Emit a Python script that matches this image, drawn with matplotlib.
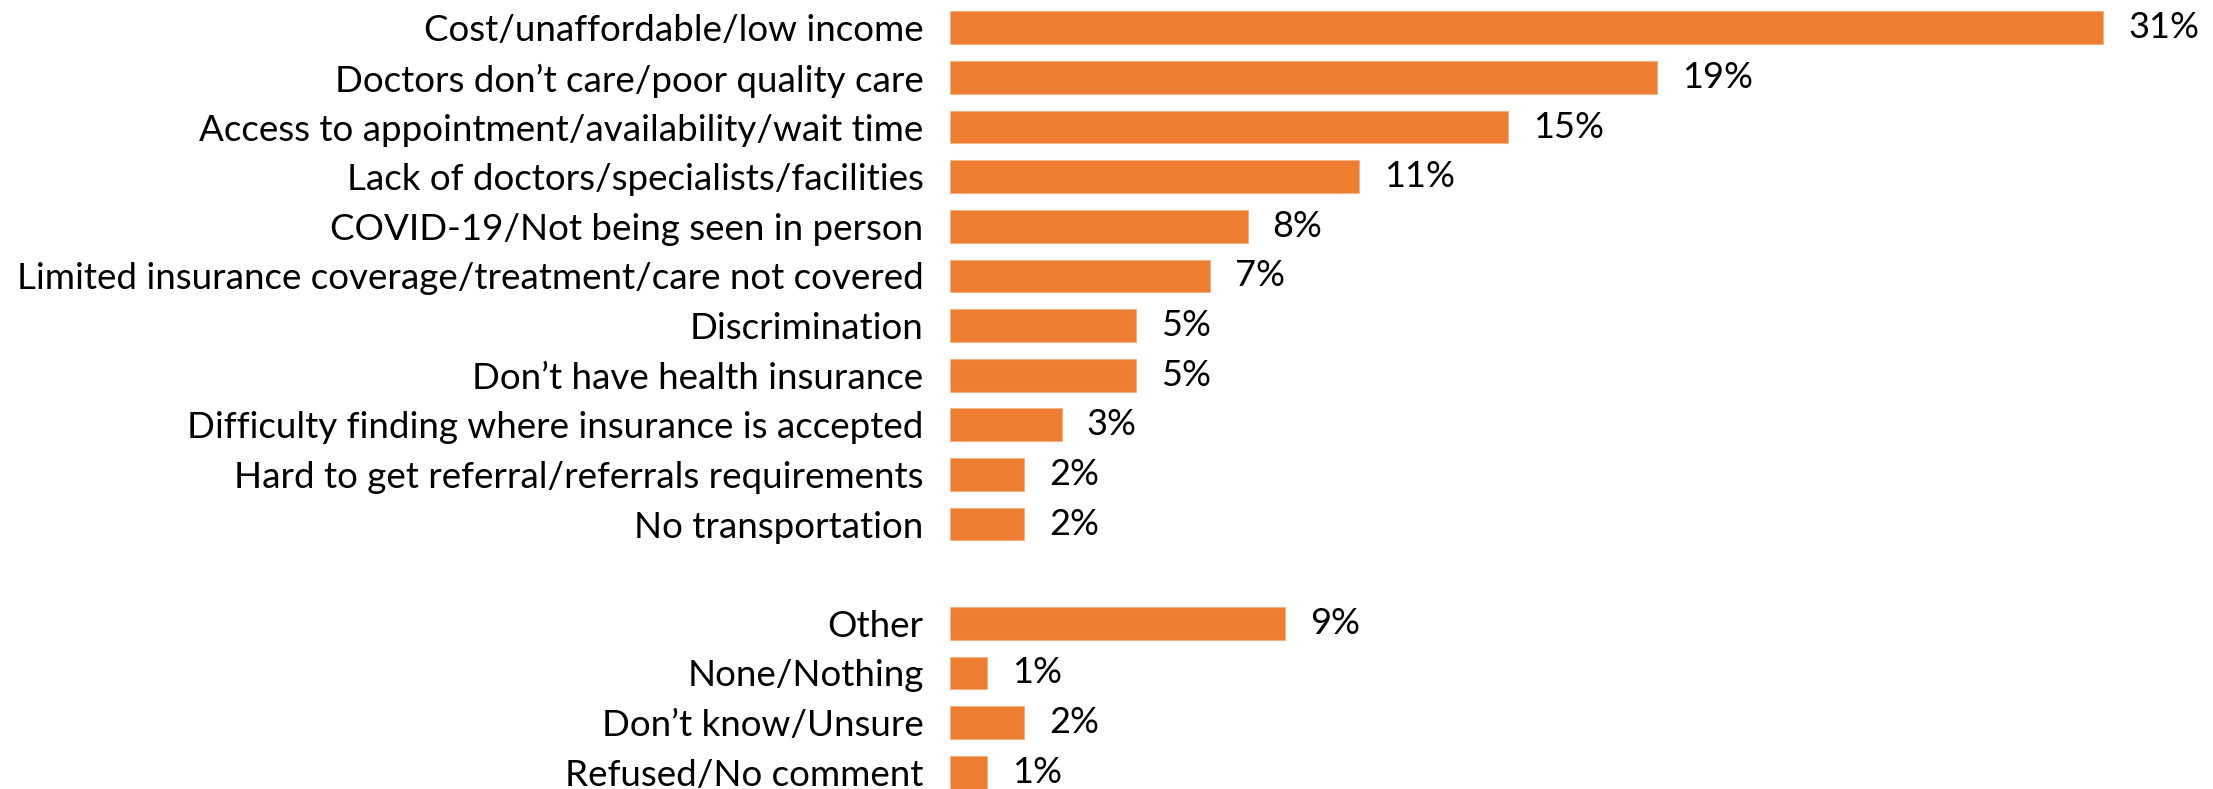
import numpy as np
import matplotlib; matplotlib.use("Agg")
import matplotlib.pyplot as plt

# reasons, top group then the "other" group (blank row in between)
reasons = ["Cost/unaffordable/low income",
           "Doctors don\u2019t care/poor quality care",
           "Access to appointment/availability/wait time",
           "Lack of doctors/specialists/facilities",
           "COVID-19/Not being seen in person",
           "Limited insurance coverage/treatment/care not covered",
           "Discrimination",
           "Don\u2019t have health insurance",
           "Difficulty finding where insurance is accepted",
           "Hard to get referral/referrals requirements",
           "No transportation"]
reason_pct = [31, 19, 15, 11, 8, 7, 5, 5, 3, 2, 2]

others = ["Other", "None/Nothing", "Don\u2019t know/Unsure", "Refused/No comment"]
other_pct = [9, 1, 2, 1]

labels = reasons + others
values = reason_pct + other_pct
pos = list(range(len(reasons))) + [len(reasons) + 1 + i for i in range(len(others))]

plt.rcParams["font.family"] = ["Lato", "DejaVu Sans"]
W, H = 2213, 789
fig = plt.figure(figsize=(W / 100, H / 100), dpi=100)
left = 950 / W
ax = fig.add_axes([left, 0, 1 - left, 1])

ax.barh(pos, values, height=0.66, color="#ED7D31", edgecolor="#F4B183", linewidth=0.8)
for p, v in zip(pos, values):
    ax.text(v + 0.67, p, f"{v}%", va="center", ha="left", fontsize=26)

ax.set_xlim(0, (W - 950) / 37.2)
ax.set_ylim(pos[-1] + 0.34, -0.56)
ax.set_yticks(pos)
ax.set_yticklabels(labels, fontsize=26.5)
ax.tick_params(axis="y", length=0, pad=19)
ax.set_xticks([])
for s in ax.spines.values():
    s.set_visible(False)

fig.savefig("out.png", dpi=100)
